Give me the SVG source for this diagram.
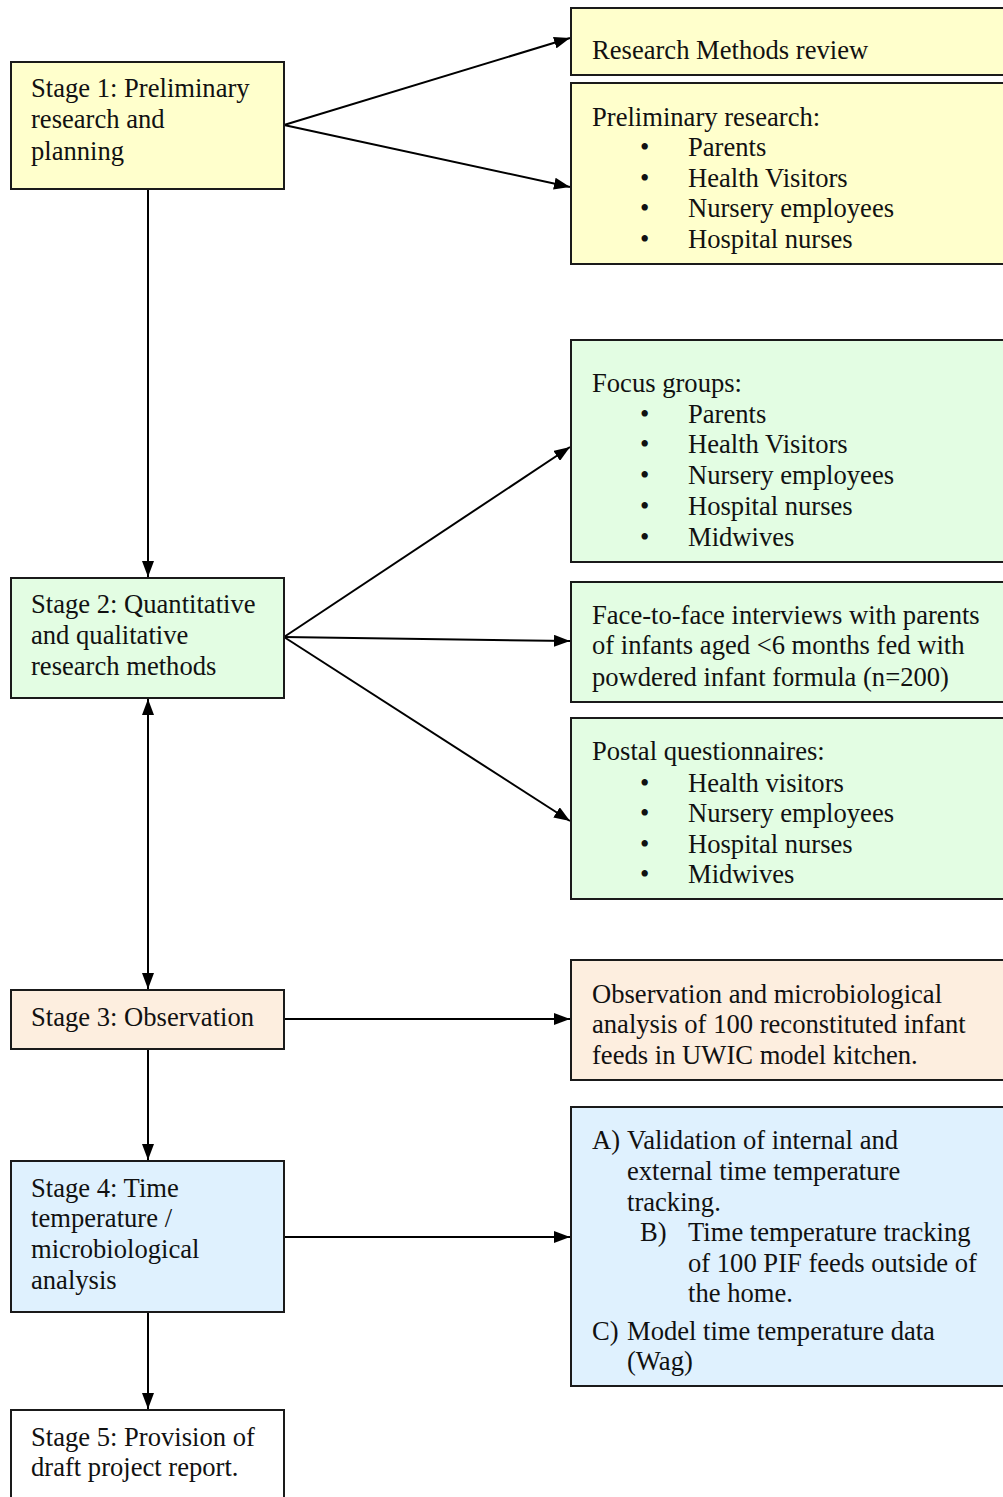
<svg xmlns="http://www.w3.org/2000/svg" width="1003" height="1497" viewBox="0 0 1003 1497">
<style>
.box{stroke:#1a1a1a;stroke-width:2}
.y{fill:#FFFFCC}.g{fill:#E3FDE3}.p{fill:#FDEEDF}.b{fill:#DFF1FE}.w{fill:#FFFFFF}
text{font-family:"Liberation Serif","Times New Roman",serif;font-size:26.6px;fill:#111}
.c{stroke:#000;stroke-width:2;fill:none}
</style>
<defs>
<marker id="ah" viewBox="0 0 16 12" refX="16" refY="6" markerWidth="16" markerHeight="12" markerUnits="userSpaceOnUse" orient="auto-start-reverse">
<path d="M0,0 L16,6 L0,12 Z" fill="#000"/>
</marker>
</defs>
<g id="connectors">
<line class="c" x1="284" y1="125" x2="570" y2="38" marker-end="url(#ah)"/>
<line class="c" x1="284" y1="125" x2="570" y2="187" marker-end="url(#ah)"/>
<line class="c" x1="148" y1="189" x2="148" y2="577" marker-end="url(#ah)"/>
<line class="c" x1="284" y1="637" x2="570" y2="447" marker-end="url(#ah)"/>
<line class="c" x1="284" y1="637" x2="570" y2="641" marker-end="url(#ah)"/>
<line class="c" x1="284" y1="637" x2="570" y2="821" marker-end="url(#ah)"/>
<line class="c" x1="148" y1="699" x2="148" y2="989" marker-start="url(#ah)" marker-end="url(#ah)"/>
<line class="c" x1="284" y1="1019" x2="570" y2="1019" marker-end="url(#ah)"/>
<line class="c" x1="148" y1="1049" x2="148" y2="1160" marker-end="url(#ah)"/>
<line class="c" x1="284" y1="1237" x2="570" y2="1237" marker-end="url(#ah)"/>
<line class="c" x1="148" y1="1312" x2="148" y2="1409" marker-end="url(#ah)"/>
</g>
<g id="stage1">
<rect class="box y" x="11" y="62" width="273" height="127"/>
<text x="31" y="97">Stage 1: Preliminary</text>
<text x="31" y="128">research and</text>
<text x="31" y="160">planning</text>
</g>
<g id="research-methods-review">
<rect class="box y" x="571" y="8" width="440" height="67"/>
<text x="592" y="59">Research Methods review</text>
</g>
<g id="preliminary-research">
<rect class="box y" x="571" y="83" width="440" height="181"/>
<text x="592" y="126">Preliminary research:</text>
<text x="640" y="156">•</text><text x="688" y="156">Parents</text>
<text x="640" y="187">•</text><text x="688" y="187">Health Visitors</text>
<text x="640" y="217">•</text><text x="688" y="217">Nursery employees</text>
<text x="640" y="248">•</text><text x="688" y="248">Hospital nurses</text>
</g>
<g id="stage2">
<rect class="box g" x="11" y="578" width="273" height="120"/>
<text x="31" y="613">Stage 2: Quantitative</text>
<text x="31" y="644">and qualitative</text>
<text x="31" y="675">research methods</text>
</g>
<g id="focus-groups">
<rect class="box g" x="571" y="340" width="440" height="222"/>
<text x="592" y="392">Focus groups:</text>
<text x="640" y="423">•</text><text x="688" y="423">Parents</text>
<text x="640" y="453">•</text><text x="688" y="453">Health Visitors</text>
<text x="640" y="484">•</text><text x="688" y="484">Nursery employees</text>
<text x="640" y="515">•</text><text x="688" y="515">Hospital nurses</text>
<text x="640" y="546">•</text><text x="688" y="546">Midwives</text>
</g>
<g id="face-to-face">
<rect class="box g" x="571" y="582" width="440" height="120"/>
<text x="592" y="624">Face-to-face interviews with parents</text>
<text x="592" y="654">of infants aged &lt;6 months fed with</text>
<text x="592" y="686">powdered infant formula (n=200)</text>
</g>
<g id="postal-questionnaires">
<rect class="box g" x="571" y="718" width="440" height="181"/>
<text x="592" y="760">Postal questionnaires:</text>
<text x="640" y="792">•</text><text x="688" y="792">Health visitors</text>
<text x="640" y="822">•</text><text x="688" y="822">Nursery employees</text>
<text x="640" y="853">•</text><text x="688" y="853">Hospital nurses</text>
<text x="640" y="883">•</text><text x="688" y="883">Midwives</text>
</g>
<g id="stage3">
<rect class="box p" x="11" y="990" width="273" height="59"/>
<text x="31" y="1026">Stage 3: Observation</text>
</g>
<g id="observation">
<rect class="box p" x="571" y="960" width="440" height="120"/>
<text x="592" y="1003">Observation and microbiological</text>
<text x="592" y="1033">analysis of 100 reconstituted infant</text>
<text x="592" y="1064">feeds in UWIC model kitchen.</text>
</g>
<g id="stage4">
<rect class="box b" x="11" y="1161" width="273" height="151"/>
<text x="31" y="1197">Stage 4: Time</text>
<text x="31" y="1227">temperature /</text>
<text x="31" y="1258">microbiological</text>
<text x="31" y="1289">analysis</text>
</g>
<g id="time-temperature">
<rect class="box b" x="571" y="1107" width="440" height="279"/>
<text x="592" y="1149">A)</text><text x="627" y="1149">Validation of internal and</text>
<text x="627" y="1180">external time temperature</text>
<text x="627" y="1211">tracking.</text>
<text x="640" y="1241">B)</text><text x="688" y="1241">Time temperature tracking</text>
<text x="688" y="1272">of 100 PIF feeds outside of</text>
<text x="688" y="1302">the home.</text>
<text x="592" y="1340">C)</text><text x="627" y="1340">Model time temperature data</text>
<text x="627" y="1370">(Wag)</text>
</g>
<g id="stage5">
<rect class="box w" x="11" y="1410" width="273" height="100"/>
<text x="31" y="1446">Stage 5: Provision of</text>
<text x="31" y="1476">draft project report.</text>
</g>
</svg>
